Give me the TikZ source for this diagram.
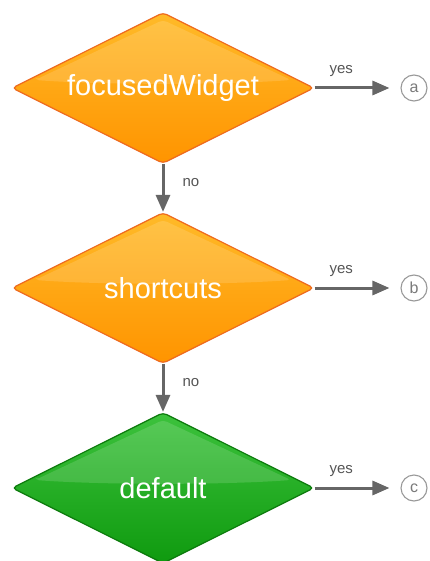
\documentclass[tikz,border=0pt]{standalone}
\usepackage{fontspec}
\setmainfont{Liberation Sans}
\usetikzlibrary{shapes.geometric,arrows.meta}

\definecolor{orangetop}{HTML}{FFBA28}
\definecolor{orangebot}{HTML}{FF9400}
\definecolor{orangeline}{HTML}{EE6A1E}
\definecolor{greentop}{HTML}{3CC23C}
\definecolor{greenbot}{HTML}{0F9A0F}
\definecolor{greenline}{HTML}{0C7A0C}
\definecolor{arrowgray}{HTML}{666666}
\definecolor{labelgray}{HTML}{555555}
\definecolor{ringgray}{HTML}{999999}

\tikzset{
  decision/.style={diamond, shape aspect=2, minimum width=302pt, minimum height=151pt,
    inner sep=0pt, rounded corners=4pt, line width=1.2pt, text=white,
    font=\fontsize{29}{31}\selectfont,
    path picture={
      \fill[white, fill opacity=0.14]
        ([xshift=-128pt,yshift=8pt]path picture bounding box.center)
        -- ([xshift=0pt,yshift=68pt]path picture bounding box.center)
        -- ([xshift=128pt,yshift=8pt]path picture bounding box.center)
        .. controls ([xshift=60pt,yshift=3pt]path picture bounding box.center)
           and ([xshift=-60pt,yshift=3pt]path picture bounding box.center)
        .. cycle;
    }},
  orangebox/.style={decision, draw=orangeline, top color=orangetop, bottom color=orangebot},
  greenbox/.style={decision, draw=greenline, top color=greentop, bottom color=greenbot},
  target/.style={circle, draw=ringgray, line width=1.1pt, fill=white, minimum size=26pt,
    inner sep=0pt, text=ringgray!80!black, font=\fontsize{16}{16}\selectfont},
  flow/.style={draw=arrowgray, line width=3pt, -{Triangle[length=17pt,width=14pt]}},
  lbl/.style={text=labelgray, font=\fontsize{15}{15}\selectfont, inner sep=0pt}
}

\begin{document}
\begin{tikzpicture}[x=1pt,y=-1pt]
  \useasboundingbox (0,0) rectangle (429,561);

  % decisions
  \node[orangebox] (focus) at (163,88) {focusedWidget};
  \node[orangebox] (short) at (163,288) {shortcuts};
  \node[greenbox]  (deflt) at (163,488) {default};

  % outcomes
  \node[target] (ra) at (414,88) {a};
  \node[target] (rb) at (414,288) {b};
  \node[target] (rc) at (414,488) {c};

  % "yes" branches
  \draw[flow, shorten >=11pt] (focus.east) -- (ra.west) node[lbl, pos=0.31, above=10pt] {yes};
  \draw[flow, shorten >=11pt] (short.east) -- (rb.west) node[lbl, pos=0.31, above=10pt] {yes};
  \draw[flow, shorten >=11pt] (deflt.east) -- (rc.west) node[lbl, pos=0.31, above=10pt] {yes};

  % "no" branches
  \draw[flow] (focus.south) -- (short.north) node[lbl, pos=0.38, right=18pt] {no};
  \draw[flow] (short.south) -- (deflt.north) node[lbl, pos=0.38, right=18pt] {no};
\end{tikzpicture}
\end{document}
